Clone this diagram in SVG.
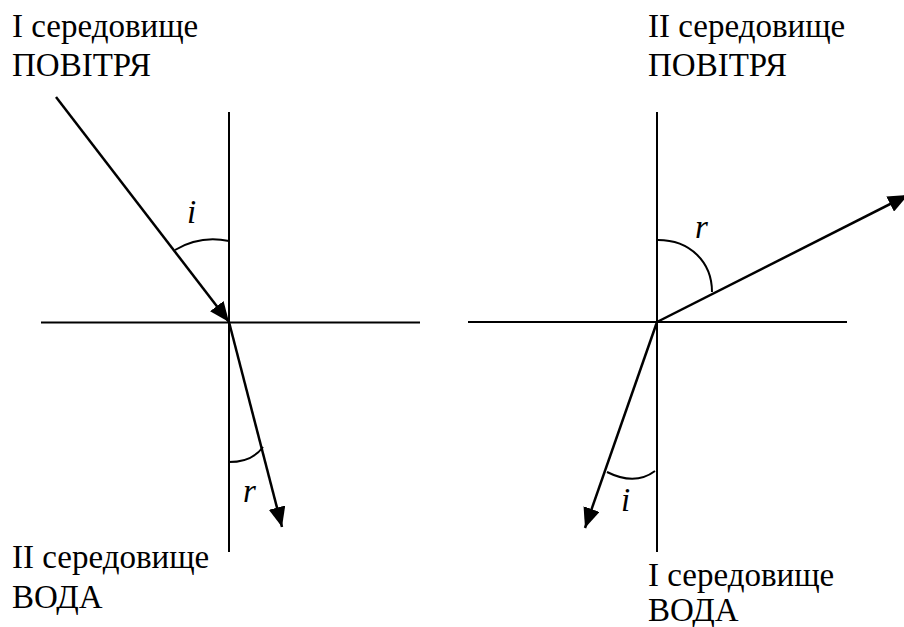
<svg xmlns="http://www.w3.org/2000/svg" width="904" height="627" viewBox="0 0 904 627">
<style>
text{font-family:"Liberation Serif","Times New Roman",serif;font-size:33px;fill:#000}
.l{font-style:italic}
.ax{stroke:#000;stroke-width:2;fill:none}
.ray{stroke:#000;stroke-width:2.5;fill:none;marker-end:url(#ah)}
.arc{stroke:#000;stroke-width:2;fill:none}
</style>
<defs>
<marker id="ah" markerUnits="userSpaceOnUse" markerWidth="21" markerHeight="17" refX="20" refY="8.5" orient="auto">
<path d="M0,0 L20,8.5 L0,17 z" fill="#000"/>
</marker>
</defs>
<rect width="904" height="627" fill="#fff"/>
<g id="left-diagram">
<g id="left-axes">
<line class="ax" x1="41" y1="322.5" x2="420" y2="322.5"/>
<line class="ax" x1="229" y1="112" x2="229" y2="552"/>
</g>
<g id="left-labels">
<text x="12" y="37">I середовище</text>
<text x="12" y="76">ПОВІТРЯ</text>
<text x="12" y="568">II середовище</text>
<text x="12" y="608">ВОДА</text>
</g>
<g id="left-angles">
<path class="arc" d="M175,250 Q200,235 229,241"/>
<text class="l" x="187" y="223">i</text>
<path class="arc" d="M229,462 Q252,462 263,447"/>
<text class="l" x="243" y="502">r</text>
</g>
</g>
<g id="right-diagram">
<g id="right-axes">
<line class="ax" x1="468" y1="322" x2="847" y2="322"/>
<line class="ax" x1="657" y1="112" x2="657" y2="552"/>
</g>
<g id="right-labels">
<text x="648" y="37">II середовище</text>
<text x="648" y="76">ПОВІТРЯ</text>
<text x="648" y="586">I середовище</text>
<text x="648" y="621">ВОДА</text>
</g>
<g id="right-angles">
<path class="arc" d="M658,240 C690,240 712,262 712,292"/>
<text class="l" x="695" y="238">r</text>
<path class="arc" d="M607,472 Q635,486 655,471"/>
<text class="l" x="621" y="511">i</text>
</g>
</g>
<g id="connectors">
<line class="ray" x1="56" y1="97" x2="229" y2="322"/>
<line class="ray" x1="229" y1="322" x2="282" y2="527"/>
<line class="ray" x1="657" y1="322" x2="908" y2="195"/>
<line class="ray" x1="657" y1="322" x2="585" y2="528"/>
</g>
</svg>
